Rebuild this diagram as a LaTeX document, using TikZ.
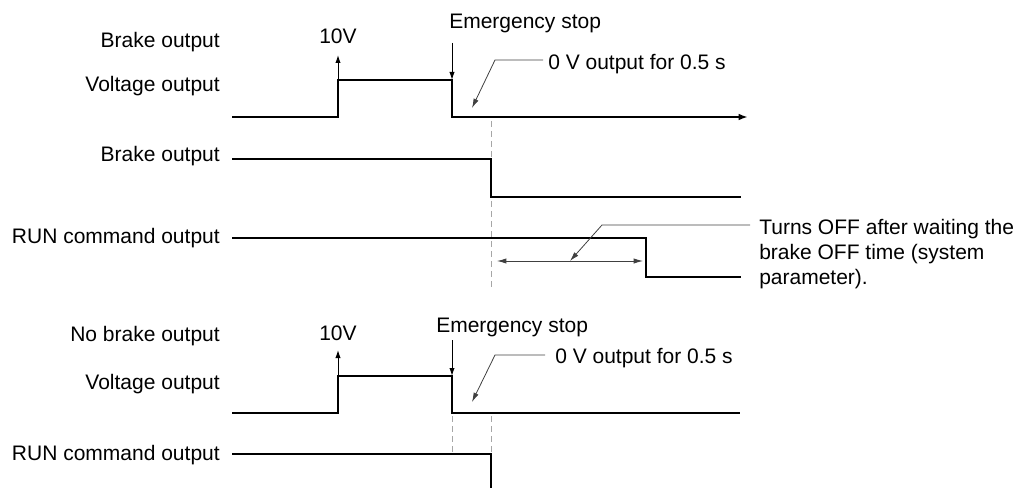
\documentclass[tikz,border=0pt]{standalone}
\usepackage{fontspec}
\setmainfont{Liberation Sans}
\usetikzlibrary{arrows.meta,positioning}

\begin{document}
\begin{tikzpicture}[x=0.75pt, y=-0.75pt,
    txt/.style={inner sep=0pt, font=\fontsize{15.75}{18.75}\selectfont},
    lbl/.style={txt, anchor=base east},
    sig/.style={line width=1.6pt, line join=miter},
    sigarrow/.style={-{Latex[length=6pt,width=4pt]}, line width=0.75pt},
    lead/.style={-{Latex[length=7pt,width=4pt]}, line width=0.6pt, black!75},
    guide/.style={dash pattern=on 4.5pt off 3pt, line width=0.75pt, black!35},
    dim/.style={{Latex[length=7pt,width=4pt]}-{Latex[length=7pt,width=4pt]},
    line width=0.6pt, black!75}]

    \useasboundingbox (0,0) rectangle (1019,488);

    % Labels (with brake)
    \node[lbl] (brk) at (220,48) {Brake output};
    \node[lbl] (volt) at (220,92) {Voltage output};
    \node[lbl] (brkout) at (220,162) {Brake output};
    \node[lbl] (run) at (220,243) {RUN command output};

    % Voltage output
    \coordinate (a0) at (232,117);
    \coordinate (a1) at (338,117);
    \coordinate (a2) at (338,80);
    \coordinate (a3) at (452,80);
    \coordinate (a4) at (452,117);
    \coordinate (a5) at (748,117);
    \draw[sig, -{Latex[length=7pt,width=5pt]}] (a0) -- (a1) -- (a2) -- (a3) -- (a4) -- (a5);

    % 10V and emergency stop
    \node[txt, anchor=base] (ten) at (338,44) {10V};
    \coordinate (tentip) at (338,55);
    \draw[sigarrow] (a2) -- (tentip);
    \node[txt, anchor=base west] (estop) at (449,29) {Emergency stop};
    \coordinate (estail) at (452,43);
    \draw[sigarrow] (estail) -- (a3);

    % 0 V note
    \node[txt, anchor=base west] (zero) at (548,70) {0 V output for 0.5 s};
    \coordinate (zbend) at (495,60);
    \coordinate (ztip) at (472,108);
    \draw[lead] ([xshift=-3.75pt,yshift=7.5pt]zero.base west) -- (zbend) -- (ztip);

    \draw[guide] (491,121) -- (491,288);

    % Brake output
    \draw[sig] (232,159) -- (491,159) -- (491,197) -- (741,197);

    % RUN command output
    \draw[sig] (232,238) -- (646,238) -- (646,277) -- (741,277);

    % Brake OFF time
    \coordinate (d1) at (497,261);
    \coordinate (d2) at (643,261);
    \draw[dim] (d1) -- (d2);
    \node[txt, anchor=north west, align=left] (turns) at (759,219)
        {Turns OFF after waiting the\\brake OFF time (system\\parameter).};
    \coordinate (tbend) at (602,225);
    \coordinate (ttip) at (570,261);
    \draw[lead] ([xshift=-6.75pt,yshift=-4.5pt]turns.north west) -- (tbend) -- (ttip);

    % Labels (no brake)
    \node[lbl] (nobrk) at (220,341) {No brake output};
    \node[lbl] (volt2) at (220,389) {Voltage output};
    \node[lbl] (run2) at (220,460) {RUN command output};

    % Voltage output
    \coordinate (b0) at (232,413);
    \coordinate (b1) at (338,413);
    \coordinate (b2) at (338,376);
    \coordinate (b3) at (452,376);
    \coordinate (b4) at (452,413);
    \coordinate (b5) at (740,413);
    \draw[sig] (b0) -- (b1) -- (b2) -- (b3) -- (b4) -- (b5);

    % 10V and emergency stop
    \node[txt, anchor=base] (ten2) at (338,340) {10V};
    \coordinate (tentip2) at (338,350);
    \draw[sigarrow] (b2) -- (tentip2);
    \node[txt, anchor=base west] (estop2) at (436,332) {Emergency stop};
    \coordinate (estail2) at (452,340);
    \draw[sigarrow] (estail2) -- (b3);

    % 0 V note
    \node[txt, anchor=base west] (zero2) at (555,363) {0 V output for 0.5 s};
    \coordinate (zbend2) at (495,355);
    \coordinate (ztip2) at (472,402);
    \draw[lead] ([xshift=-7.5pt,yshift=6pt]zero2.base west) -- (zbend2) -- (ztip2);

    \draw[guide] (452,416) -- (452,454);
    \draw[guide] (491,416) -- (491,454);

    % RUN command output
    \draw[sig] (232,454) -- (491,454) -- (491,488);
\end{tikzpicture}
\end{document}
